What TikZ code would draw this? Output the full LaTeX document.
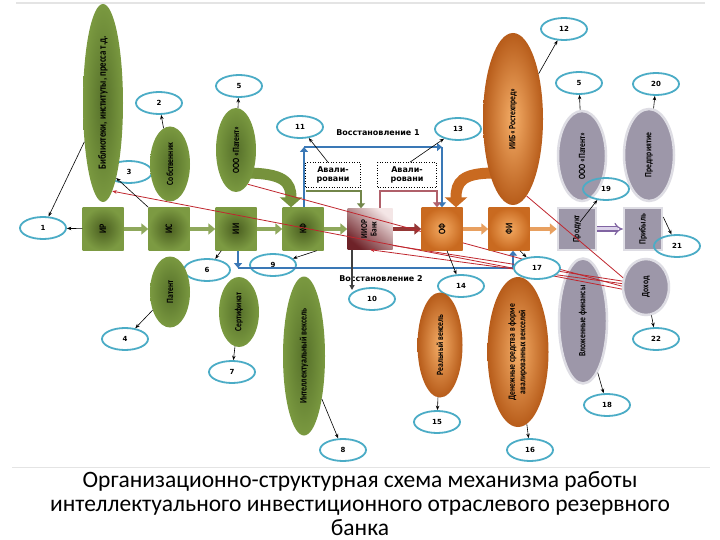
\documentclass[tikz,border=0pt]{standalone}
\usepackage{fontspec}
\usepackage{graphicx}
\setmainfont{Carlito}
\newfontfamily\condf[FakeStretch=0.8]{Carlito}
\newfontfamily\dvs{DejaVu Sans}
\usetikzlibrary{shapes.geometric,arrows.meta,calc}
\pgfdeclarelayer{back}
\pgfdeclarelayer{mid}
\pgfdeclarelayer{top}
\pgfsetlayers{back,mid,main,top}
\definecolor{gIn}{HTML}{4A5E20}
\definecolor{gOut}{HTML}{7C9A42}
\definecolor{gInE}{HTML}{56702A}
\definecolor{gOutE}{HTML}{7A9940}
\definecolor{gArr}{HTML}{8FA85C}
\definecolor{gBig}{HTML}{76923C}
\definecolor{oIn}{HTML}{F3AA62}
\definecolor{oOut}{HTML}{C96A20}
\definecolor{oInE}{HTML}{F5AE68}
\definecolor{oOutE}{HTML}{B75C1A}
\definecolor{oArr}{HTML}{E8A060}
\definecolor{greyF}{HTML}{9D97A9}
\definecolor{greyB}{HTML}{DEDDE4}
\definecolor{numC}{HTML}{4BACC6}
\definecolor{blueL}{HTML}{3A78B6}
\definecolor{redL}{HTML}{C0262E}
\definecolor{marA}{HTML}{953735}
\definecolor{mauve}{HTML}{B0606A}
\definecolor{purp}{HTML}{8064A2}
\definecolor{purpL}{HTML}{DCD3EA}
\definecolor{bankL}{HTML}{F4E6E6}
\definecolor{bankD}{HTML}{6E2228}
\definecolor{lineG}{HTML}{E4E4E4}
\newcommand\rtxt[1]{\rotatebox{90}{#1}}
\newcommand\twoline[2]{\begin{tabular}{@{}c@{}}#1\\#2\end{tabular}}
\tikzset{
 sqbase/.style={rectangle, minimum width=41pt, minimum height=43pt, inner sep=0pt, font=\condf\bfseries\fontsize{10}{11}\selectfont},
 gsq/.style={sqbase, inner color=gIn, outer color=gOut},
 osq/.style={sqbase, inner color=oIn, outer color=oOut},
 grsq/.style={sqbase, fill=greyF, draw=greyB, line width=2.5pt, minimum width=38pt, minimum height=42pt, font=\condf\bfseries\fontsize{9.5}{10}\selectfont},
 banksq/.style={sqbase, minimum width=45pt, minimum height=41pt, font=\condf\bfseries\fontsize{9}{9.5}\selectfont, shading=axis, top color=bankL, bottom color=bankD, shading angle=-40},
 ellbase/.style={ellipse, inner sep=0pt, font=\condf\bfseries\fontsize{9.5}{10.5}\selectfont},
 gell/.style={ellbase, inner color=gInE, outer color=gOutE},
 oell/.style={ellbase, inner color=oInE, outer color=oOutE},
 grell/.style={ellbase, fill=greyF, draw=greyB, line width=2.5pt},
 num/.style={ellipse, draw=numC, line width=1.8pt, fill=white, minimum width=46pt, minimum height=22pt, inner sep=0pt, font=\dvs\bfseries\fontsize{7}{8}\selectfont},
 numo/.style={num, fill=none},
 avbox/.style={rectangle, draw=black, dotted, line width=0.6pt, inner sep=0pt, minimum height=25pt, align=center, font=\dvs\bfseries\fontsize{8}{9.5}\selectfont},
 lbl/.style={inner sep=0pt, font=\dvs\bfseries\fontsize{8}{9}\selectfont},
 blk/.style={draw=black, line width=0.6pt, -{Stealth[length=4.5pt,width=3.5pt]}},
 darkarr/.style={draw=black!75, line width=1.2pt, -{Triangle[length=5pt,width=5pt]}},
 garr/.style={draw=gArr, line width=4.5pt, -{Triangle[length=7pt,width=11pt]}},
 marr/.style={draw=marA, line width=4.5pt, -{Triangle[length=7pt,width=11pt]}},
 oarr/.style={draw=oArr, line width=4.5pt, -{Triangle[length=7pt,width=11pt]}},
 parr/.style={draw=purp, double=purpL, double distance=3pt, line width=1.2pt, -{Implies}},
 bigg/.style={draw=gBig, line width=11pt, -{Triangle[length=10pt,width=22pt]}},
 bigo/.style={draw=oOut, line width=11pt, -{Triangle[length=10pt,width=22pt]}},
 bline/.style={draw=blueL, line width=2.6pt, -{Triangle[length=5pt,width=8pt]}},
 blinen/.style={draw=blueL, line width=2.6pt},
 gline/.style={draw=gArr!80!black, line width=2.5pt, -{Triangle[length=5pt,width=8pt]}},
 mline/.style={draw=mauve, line width=2.5pt, -{Triangle[length=5pt,width=8pt]}},
 rline/.style={draw=redL, line width=0.8pt},
 rarr/.style={rline, -{Stealth[length=4.5pt,width=3.5pt]}},
 ttl/.style={inner sep=0pt, anchor=base, font=\fontsize{23.5}{26}\selectfont}
}
\begin{document}
\begin{tikzpicture}[x=1pt,y=-1pt]
\useasboundingbox (0,0) rectangle (720,540);
\begin{pgfonlayer}{back}
\fill[white] (0,0) rectangle (720,540);
\draw[lineG, line width=1.2pt] (16,3) -- (705,3);
\draw[lineG, line width=1pt] (12,467) -- (710,467);
% number ellipses
\node[num] (n1) at (43,228) {1};
\node[num] (n2) at (159,103) {2};
\node[num] (n3) at (129,172) {3};
\node[num] (n4) at (125,339) {4};
\node[num] (n5a) at (239,86) {5};
\node[num] (n6) at (207,270) {6};
\node[num] (n7) at (232,372) {7};
\node[num] (n8) at (343,450) {8};
\node[num] (n9) at (273,265) {9};
\node[num] (n10) at (372,299) {10};
\node[num] (n11) at (300,127) {11};
\node[num] (n12) at (564,29) {12};
\node[num] (n13) at (458,129) {13};
\node[num] (n14) at (461,286) {14};
\node[num] (n15) at (437,422) {15};
\node[num] (n16) at (530,450) {16};
\node[num] (n18) at (607,405) {18};
\node[num] (n5b) at (579,83) {5};
\node[num] (n20) at (656,84) {20};
\node[num] (n22) at (656,339) {22};
\end{pgfonlayer}

% green ellipses
\node[gell, minimum width=40pt, minimum height=198pt, font=\condf\bfseries\fontsize{11}{12}\selectfont] (bib) at (103,103) {\rtxt{Библиотеки, институты, пресса т.д.}};
\node[gell, minimum width=40pt, minimum height=75pt] (sob) at (170,164) {\rtxt{Собственник}};
\node[gell, minimum width=40pt, minimum height=84pt] (pat1) at (236,150) {\rtxt{ООО «Патент»}};
\node[gell, minimum width=40pt, minimum height=71pt] (patent) at (170,292) {\rtxt{Патент}};
\node[gell, minimum width=40pt, minimum height=70pt] (sert) at (239,312) {\rtxt{Сертификат}};
\node[gell, minimum width=42pt, minimum height=159pt, font=\condf\bfseries\fontsize{10}{11}\selectfont] (iv) at (304,356) {\rtxt{Интеллектуальный вексель}};
% orange ellipses
\node[oell, minimum width=60pt, minimum height=172pt] (iib) at (513,119) {\rtxt{ИИБ «Ростехпред»}};
\node[oell, minimum width=45pt, minimum height=105pt] (rv) at (440,345) {\rtxt{Реальный вексель}};
\node[oell, minimum width=61pt, minimum height=150pt] (ds) at (518,352) {\rtxt{\twoline{Денежные средства в форме}{авалированных векселей}}};
% grey ellipses
\node[grell, minimum width=48pt, minimum height=90pt] (pat2) at (582,156) {\rtxt{ООО «Патент»}};
\node[grell, minimum width=50pt, minimum height=92pt] (pred) at (649,155) {\rtxt{Предприятие}};
\node[grell, minimum width=48pt, minimum height=125pt] (vf) at (583,321) {\rtxt{Вложенные финансы}};
\node[grell, minimum width=46pt, minimum height=56pt] (doh) at (646,287) {\rtxt{Доход}};
% squares
\node[gsq] (ir) at (103,229) {\rtxt{ИР}};
\node[gsq] (is) at (169,229) {\rtxt{ИС}};
\node[gsq] (ii) at (236,229) {\rtxt{ИИ}};
\node[gsq] (kf) at (303,229) {\rtxt{КФ}};
\node[banksq] (bank) at (370,229) {\rtxt{\twoline{ИИОР}{Банк}}};
\node[grsq] (prod) at (577,229) {\rtxt{Продукт}};
\node[grsq] (prib) at (643,229) {\rtxt{Прибыль}};
% dotted boxes and labels
\node[avbox, minimum width=55pt] (av1) at (333,175) {Авали-\\ровани};
\node[avbox, minimum width=59pt] (av2) at (407,175) {Авали-\\ровани};
\node[lbl] (vo1) at (378,133) {Восстановление 1};
\node[lbl] (vo2) at (381,279) {Восстановление 2};

\begin{pgfonlayer}{top}
\node[osq] (of) at (442,229) {\rtxt{ОФ}};
\node[osq] (fi) at (509,229) {\rtxt{ФИ}};
\node[num] (n17) at (537,268) {17};
\node[numo] (n19) at (606,189) {19};
\node[numo] (n21) at (677,246) {21};
\end{pgfonlayer}

% coordinates for bent lines
\coordinate (b1a) at (304,147);
\coordinate (b1b) at (442,147);
\coordinate (b2a) at (238,268);
\coordinate (b2b) at (513,268);
\coordinate (gl1) at (306,191);
\coordinate (gl2) at (361,191);
\coordinate (ml1) at (380,191);
\coordinate (ml2) at (437,191);
\coordinate (b10) at (352,290);
\coordinate (gA) at (244,173);
\coordinate (oA) at (494,173);

\begin{pgfonlayer}{mid}
% main row
\draw[garr] (ir) -- (is);
\draw[garr] (is) -- (ii);
\draw[garr] (ii) -- (kf);
\draw[garr] (kf) -- (bank);
\draw[marr] (bank) -- (of);
\draw[oarr] (of) -- (fi);
\draw[oarr] (fi) -- (prod);
\draw[parr] (prod) -- (prib);
% curved block arrows
\draw[bigg] (gA) .. controls (284,173) and (291,182) .. ([xshift=-12pt]kf.north);
\draw[bigo] (oA) .. controls (462,173) and (456,182) .. ([xshift=14pt]of.north);
% blue restoration lines
\draw[bline] (b1a |- kf.north) -- (b1a);
\draw[bline] (b1a) -- (b1b);
\draw[bline] (b1b) -- (b1b |- of.north);
\draw[bline] (b2a |- ii.south) -- (b2a);
\draw[blinen] (b2a) -- (b2b);
\draw[bline] (b2b) -- (b2b |- fi.south);
% green and mauve lines
\draw[gline] (gl1) -- (gl2) -- (gl2 |- bank.north);
\draw[mline] (ml1 |- bank.north) -- (ml1) -- (ml2) -- (ml2 |- of.north);
\end{pgfonlayer}

% red lines
\draw[rarr] (doh.185) -- (bib.-84);
\draw[rline] (doh.178) -- (pat1.-71);
\draw[rarr] (doh.172) -- (bank.south);
\draw[rline] (doh.166) -- (bank.-36);
\draw[rline] (iib.-80) -- (doh.158);

\begin{pgfonlayer}{top}
\draw[blk] (bib) -- (n1);
\draw[blk] (ir) -- (n1);
\draw[blk] (sob) -- (n2);
\draw[blk] (is.north west) -- (bib.-80);
\draw[blk] (pat1) -- (n5a);
\draw[blk] ([xshift=6pt]ii.south west) -- (n6);
\draw[blk] ([xshift=-7pt]kf.south east) -- (n9);
\draw[blk] (patent) -- (n4);
\draw[blk] (sert) -- (n7);
\draw[blk] (iv) -- (n8);
\draw[blk] ([xshift=-5pt]av1.north) -- (n11);
\draw[blk] ([xshift=3pt]av2.north) -- (n13);
\draw[darkarr] (b10 |- bank.south) -- (b10);
\draw[blk] ([xshift=5pt]of.south) -- (n14);
\draw[blk] ([xshift=11pt]fi.south) -- (n17);
\draw[blk] (rv) -- (n15);
\draw[blk] (ds) -- (n16);
\draw[blk] (iib) -- (n12);
\draw[blk] (pat2) -- (n5b);
\draw[blk] (pred) -- (n20);
\draw[blk] ([shift={(3,-7)}]prod.center) -- (n19);
\draw[blk] ([shift={(0,-12)}]prib.east) -- (n21);
\draw[blk] (doh) -- (n22);
\draw[blk] (vf) -- (n18);
\end{pgfonlayer}

% title
\node[ttl] (t1) at (360,487) {Организационно-структурная схема механизма работы};
\node[ttl] (t2) at (360,511) {интеллектуального инвестиционного отраслевого резервного};
\node[ttl] (t3) at (360,535) {банка};
\end{tikzpicture}
\end{document}
